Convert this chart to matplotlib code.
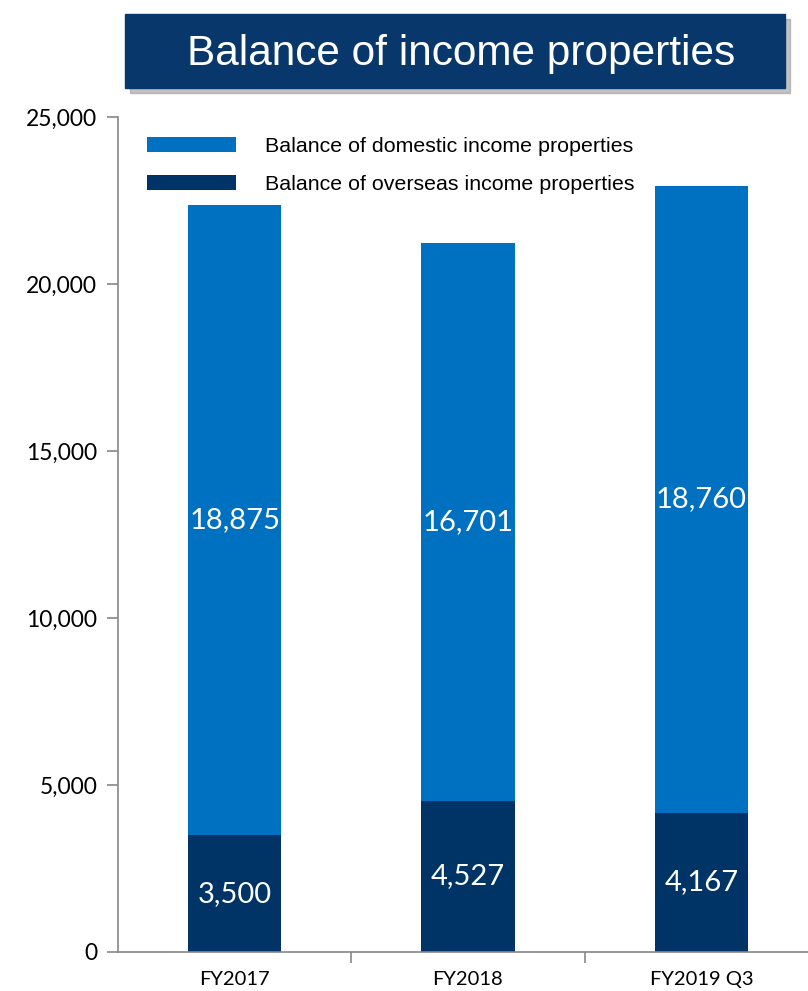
import matplotlib
matplotlib.use("Agg")
import matplotlib.pyplot as plt
from matplotlib.patches import Rectangle
import numpy as np

# data (100 million yen)
categories = ["FY2017", "FY2018", "FY2019 Q3"]
overseas = [3500, 4527, 4167]
domestic = [18875, 16701, 18760]
y_ticks = [0, 5000, 10000, 15000, 20000, 25000]

DOMESTIC_COLOR = "#0070C0"
OVERSEAS_COLOR = "#003366"
TITLE_COLOR = "#08386B"

W, H = 808, 991
fig = plt.figure(figsize=(W / 100, H / 100), dpi=100)

# axes placed in pixel terms
left, right, bottom, top = 118, 818, 952, 117
ax = fig.add_axes([left / W, (H - bottom) / H, (right - left) / W, (bottom - top) / H])

x = np.arange(len(categories))
width = 0.4
ax.bar(x, overseas, width, color=OVERSEAS_COLOR, label="Balance of overseas income properties")
ax.bar(x, domestic, width, bottom=overseas, color=DOMESTIC_COLOR,
       label="Balance of domestic income properties")

label_font = ["Lato", "DejaVu Sans"]
for xi, o, d in zip(x, overseas, domestic):
    ax.text(xi, o / 2, f"{o:,}", ha="center", va="center", color="white",
            fontsize=21, family=label_font)
    ax.text(xi, o + d / 2, f"{d:,}", ha="center", va="center", color="white",
            fontsize=21, family=label_font)

ax.set_xlim(-0.5, 2.5)
ax.set_ylim(0, 25000)
ax.set_yticks(y_ticks)
ax.set_yticklabels([f"{v:,}" for v in y_ticks], fontsize=16.5, family=label_font)
ax.set_xticks(x)
ax.set_xticklabels(categories, fontsize=14.5, family=label_font)
ax.tick_params(axis="x", length=0, pad=14)
ax.tick_params(axis="y", length=8, width=1.2, color="#888888", pad=7)
ax.set_xticks([0.5, 1.5, 2.5], minor=True)
ax.tick_params(axis="x", which="minor", length=8, width=1.2, color="#888888")

for s in ["top", "right"]:
    ax.spines[s].set_visible(False)
for s in ["left", "bottom"]:
    ax.spines[s].set_color("#888888")
    ax.spines[s].set_linewidth(1.2)

handles, labels = ax.get_legend_handles_labels()
leg = ax.legend(handles[::-1], labels[::-1], loc="upper left", bbox_to_anchor=(0.0143, 0.9986),
                frameon=False, prop={"family": "Liberation Sans", "size": 15.4},
                handlelength=4.16, handleheight=0.7, handletextpad=1.36, labelspacing=0.87)

# title banner with shadow
bx0, bx1, by0, by1 = 125, 785, 14, 88
fig.patches.append(Rectangle(((bx0 + 5) / W, (H - by1 - 5) / H), (bx1 - bx0) / W, (by1 - by0) / H,
                             transform=fig.transFigure, color="#9a9a9a", alpha=0.6, zorder=1))
fig.patches.append(Rectangle((bx0 / W, (H - by1) / H), (bx1 - bx0) / W, (by1 - by0) / H,
                             transform=fig.transFigure, color=TITLE_COLOR, zorder=2))
fig.text(461 / W, (H - 54) / H, "Balance of income properties",
         ha="center", va="center", color="white", fontsize=30.5, family="Liberation Sans", zorder=3)

fig.savefig("out.png", dpi=100)
